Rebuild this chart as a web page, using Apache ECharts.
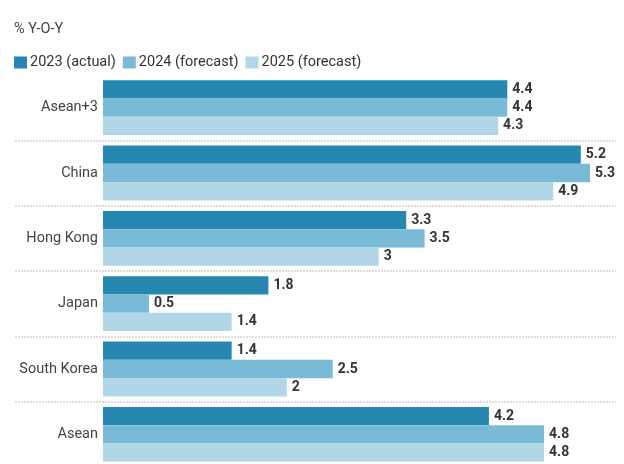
<!DOCTYPE html>
<html><head><meta charset="utf-8">
<script src="https://cdn.jsdelivr.net/npm/echarts@6/dist/echarts.min.js"></script>
<style>html,body{margin:0;padding:0;background:#fff}#c{width:624px;height:464px}</style>
</head><body><div id="c"></div>
<script>
const categories = ["Asean+3", "China", "Hong Kong", "Japan", "South Korea", "Asean"];
const seriesNames = ["2023 (actual)", "2024 (forecast)", "2025 (forecast)"];
const v2023 = [4.4, 5.2, 3.3, 1.8, 1.4, 4.2];
const v2024 = [4.4, 5.3, 3.5, 0.5, 2.5, 4.8];
const v2025 = [4.3, 4.9, 3, 1.4, 2, 4.8];
const colors = ["#2687b0", "#79bad6", "#b1d6e8"];
const values = [v2023, v2024, v2025];
const FONT = "Roboto";

const chart = echarts.init(document.getElementById('c'), null, {renderer: 'canvas'});
chart.setOption({
  animation: false,
  textStyle: {fontFamily: FONT},
  title: {text: "% Y-O-Y", left: 9, top: 17, textStyle: {fontFamily: FONT, fontSize: 14.5, fontWeight: 'normal', color: '#444'}},
  legend: {
    left: 9, top: 50, itemWidth: 13, itemHeight: 12, itemGap: 7,
    icon: 'rect',
    textStyle: {fontFamily: FONT, fontSize: 14.5, color: '#333', padding: [0, 0, 0, -2]},
    data: seriesNames
  },
  grid: [
    {left: 103, right: 34, top: 75, bottom: -3, containLabel: false, outerBoundsMode: 'none'},
    {left: 15, right: 8, top: 75, bottom: -3, containLabel: false, outerBoundsMode: 'none'}
  ],
  xAxis: [
    {type: 'value', gridIndex: 0, min: 0, max: 5.3, show: false},
    {type: 'value', gridIndex: 1, min: 0, max: 1, show: false}
  ],
  yAxis: [
    {
      type: 'category', gridIndex: 0, data: categories, inverse: true,
      axisLine: {show: false}, axisTick: {show: false},
      axisLabel: {fontFamily: FONT, fontSize: 14.5, color: '#444', margin: 5},
      splitLine: {show: false}
    },
    {
      type: 'category', gridIndex: 1, data: categories, inverse: true,
      axisLine: {show: false}, axisTick: {show: false}, axisLabel: {show: false},
      splitLine: {show: true, interval: function (i) { return i > 0; }, lineStyle: {type: [2, 1], color: '#dcdcdc', width: 2}}
    }
  ],
  series: seriesNames.map((n, k) => ({
    name: n, type: 'bar', xAxisIndex: 0, yAxisIndex: 0, data: values[k], barGap: 0, barCategoryGap: '16%',
    itemStyle: {color: colors[k]},
    label: {show: true, position: 'right', distance: 5, fontFamily: FONT, fontSize: 14, fontWeight: 'bold', color: '#333'}
  }))
});
</script></body></html>
